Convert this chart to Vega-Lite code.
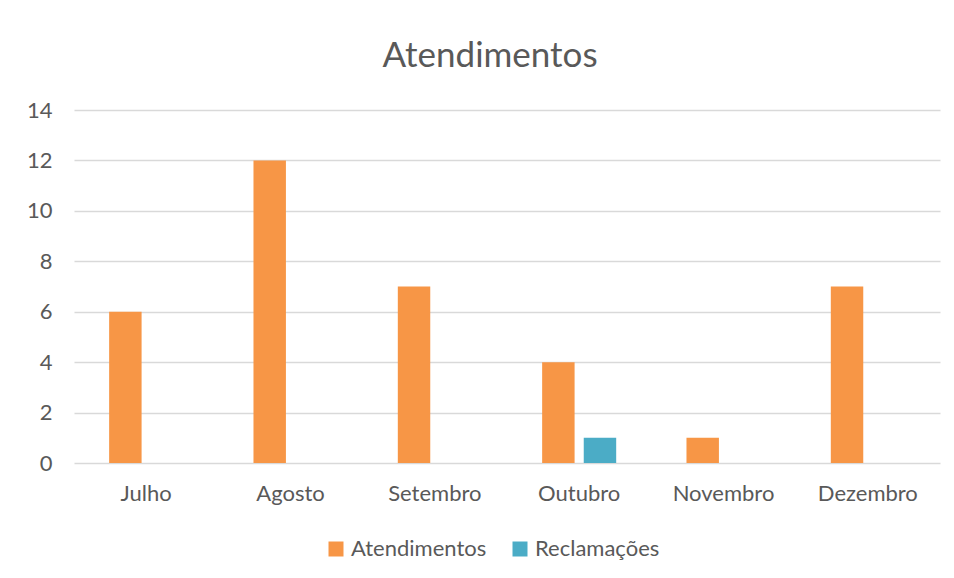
{
  "$schema": "https://vega.github.io/schema/vega-lite/v6.json",
  "width": 866,
  "height": 353,
  "autosize": {"type": "none"},
  "padding": {"left": 74, "top": 110, "right": 14, "bottom": 115},
  "background": "white",
  "title": {
    "text": "Atendimentos",
    "fontSize": 35,
    "font": "Lato",
    "fontWeight": "normal",
    "color": "#595959",
    "offset": 25,
    "anchor": "middle",
    "dx": -17
  },
  "data": {
    "values": [
      {"mes": "Julho", "serie": "Atendimentos", "valor": 6},
      {"mes": "Julho", "serie": "Reclamações", "valor": 0},
      {"mes": "Agosto", "serie": "Atendimentos", "valor": 12},
      {"mes": "Agosto", "serie": "Reclamações", "valor": 0},
      {"mes": "Setembro", "serie": "Atendimentos", "valor": 7},
      {"mes": "Setembro", "serie": "Reclamações", "valor": 0},
      {"mes": "Outubro", "serie": "Atendimentos", "valor": 4},
      {"mes": "Outubro", "serie": "Reclamações", "valor": 1},
      {"mes": "Novembro", "serie": "Atendimentos", "valor": 1},
      {"mes": "Novembro", "serie": "Reclamações", "valor": 0},
      {"mes": "Dezembro", "serie": "Atendimentos", "valor": 7},
      {"mes": "Dezembro", "serie": "Reclamações", "valor": 0}
    ]
  },
  "mark": {"type": "bar"},
  "encoding": {
    "x": {
      "field": "mes",
      "type": "nominal",
      "sort": ["Julho", "Agosto", "Setembro", "Outubro", "Novembro", "Dezembro"],
      "scale": {"paddingInner": 0.487, "paddingOuter": 0.2435},
      "axis": {
        "title": null,
        "labelAngle": 0,
        "ticks": false,
        "domain": false,
        "labelPadding": 20,
        "labelFontSize": 22,
        "labelFont": "Lato",
        "labelColor": "#595959"
      }
    },
    "xOffset": {
      "field": "serie",
      "type": "nominal",
      "scale": {"paddingInner": 0.22, "paddingOuter": 0}
    },
    "y": {
      "field": "valor",
      "type": "quantitative",
      "scale": {"domain": [0, 14]},
      "axis": {
        "title": null,
        "values": [0, 2, 4, 6, 8, 10, 12, 14],
        "ticks": false,
        "domain": false,
        "labelPadding": 22,
        "labelFontSize": 22,
        "labelFont": "Lato",
        "labelColor": "#595959",
        "gridColor": "#D9D9D9",
        "gridWidth": 1.3
      }
    },
    "color": {
      "field": "serie",
      "type": "nominal",
      "scale": {"domain": ["Atendimentos", "Reclamações"], "range": ["#F79646", "#4BACC6"]},
      "legend": {
        "title": null,
        "orient": "none",
        "direction": "horizontal",
        "legendX": 251,
        "legendY": 428,
        "symbolType": "square",
        "symbolSize": 225,
        "symbolStrokeWidth": 0,
        "symbolOpacity": 1,
        "labelFontSize": 22,
        "labelFont": "Lato",
        "labelColor": "#595959",
        "labelOffset": 4,
        "columnPadding": 22
      }
    }
  },
  "config": {"view": {"stroke": null}}
}
